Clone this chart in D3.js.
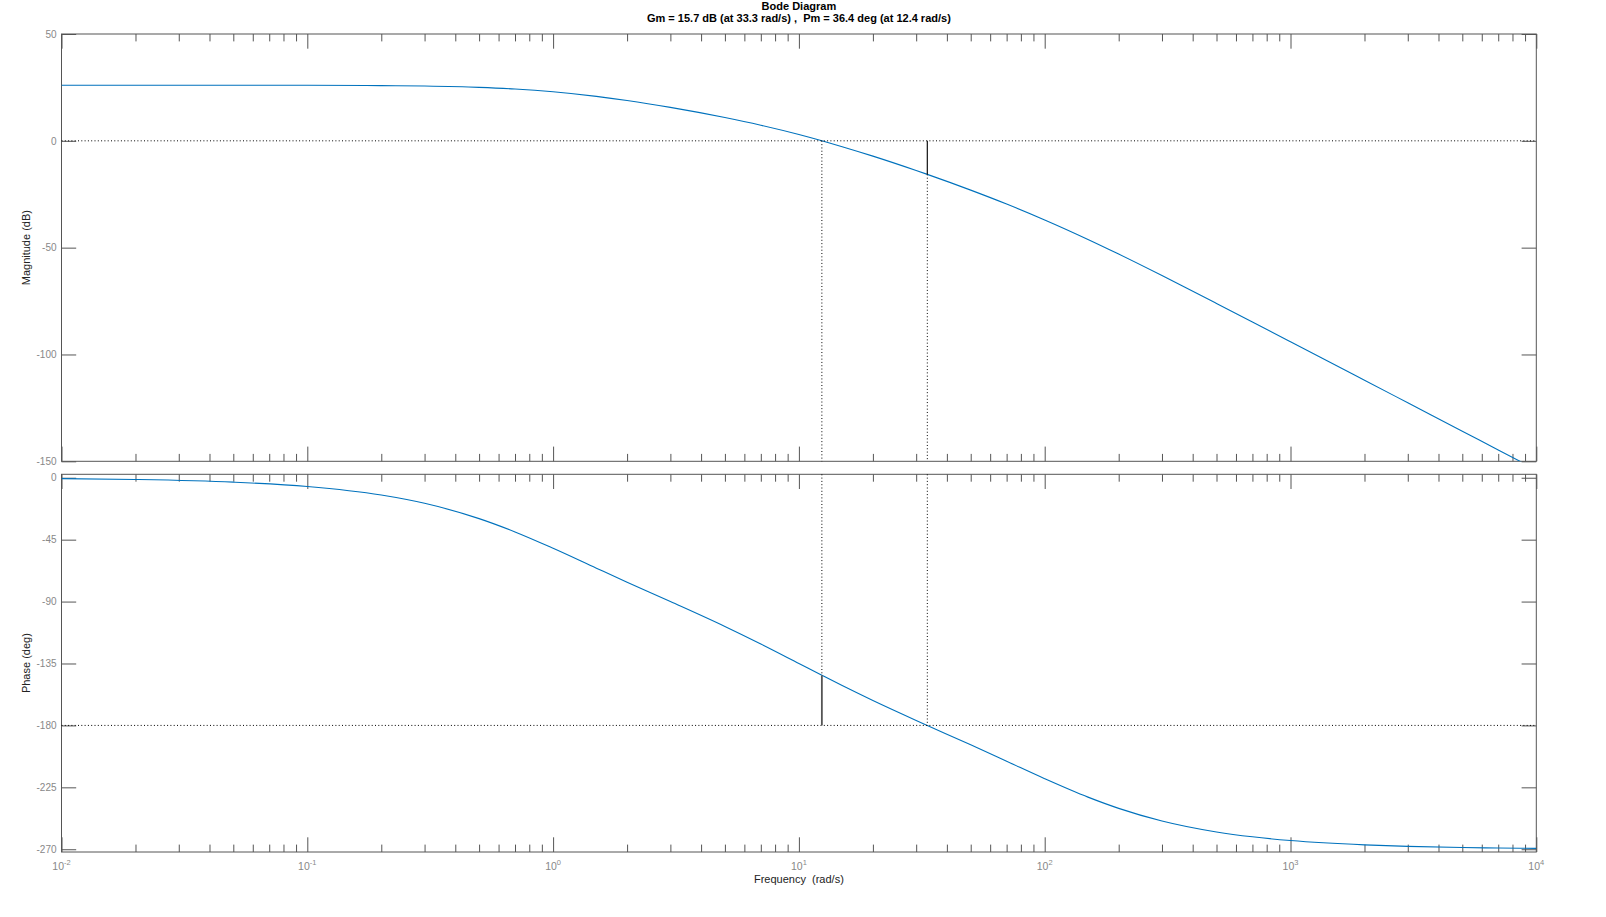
<!DOCTYPE html>
<html>
<head>
<meta charset="utf-8">
<script src="https://cdn.jsdelivr.net/npm/d3@7"></script>
<style>
body{margin:0;background:#fff;}
svg{font-family:"Liberation Sans",Arial,Helvetica,sans-serif;}
</style>
</head>
<body>
<div id="bode"></div>
<script>
// frequency points (rad/s) and response
var freq  = [0.01,0.02,0.05,0.1,0.2,0.3,0.5,0.7,1,1.5,2,3,5,7,10,12.4,15,20,30,33.3,50,70,100,150,200,300,500,700,1000,2000,3000,5000,7000,10000];
var magDb = [26.02,26.02,26.01,25.98,25.85,25.64,25.04,24.27,22.97,20.80,18.86,15.64,10.89,7.28,2.93,0.0,-2.74,-7.17,-13.90,-15.71,-23.08,-29.60,-37.03,-46.16,-53.02,-63.07,-76.09,-84.77,-94.02,-112.05,-122.61,-135.92,-144.68,-153.98];
var phaseDeg = [-0.64,-1.27,-3.18,-6.34,-12.57,-18.59,-29.72,-39.39,-51.28,-65.70,-75.89,-89.99,-108.12,-120.86,-135.0,-143.56,-151.03,-161.88,-176.36,-180.0,-194.11,-206.04,-218.72,-232.12,-240.28,-249.47,-257.43,-260.97,-263.66,-266.82,-267.88,-268.73,-269.09,-269.36];

var magTicks   = [50,0,-50,-100,-150];
var phaseTicks = [0,-45,-90,-135,-180,-225,-270];
var decades    = [-2,-1,0,1,2,3,4];

// stability margins: [frequency, value]
var gainMargin  = [33.3, 15.7];   // dB
var phaseMargin = [12.4, 36.4];   // deg

var W = 1606, H = 917;
var left = 61.5, right = 1536.3;
var magBox = {top:34, bottom:461.3};
var phBox  = {top:474.3, bottom:852};
var tickLen = 14.7, minorLen = 7.4;

var svg = d3.select("#bode").append("svg")
	.attr("width",W).attr("height",H);

var x = d3.scaleLog().domain([1e-2,1e4]).range([left,right]);
var yMag = d3.scaleLinear().domain([-150,50]).range([magBox.bottom,magBox.top]);
var yPh  = d3.scaleLinear().domain([-272,2.5]).range([phBox.bottom,phBox.top]);

var majorX = decades.map(function(d){return Math.pow(10,d);});
var minorX = [];
decades.slice(0,-1).forEach(function(d){
	for(var k=2;k<10;k++) minorX.push(k*Math.pow(10,d));
});

var defs = svg.append("defs");
[["clipMag",magBox],["clipPh",phBox]].forEach(function(c){
	defs.append("clipPath").attr("id",c[0]).append("rect")
		.attr("x",left).attr("y",c[1].top)
		.attr("width",right-left).attr("height",c[1].bottom-c[1].top);
});

function panel(box,y,ticks,data,clip){
	var g = svg.append("g");
	var h = box.bottom-box.top;

	// x ticks top and bottom, pointing inward
	g.append("g").attr("transform","translate(0,"+box.bottom+")")
		.call(d3.axisBottom(x).tickValues(majorX).tickSize(-tickLen).tickFormat(""));
	g.append("g").attr("transform","translate(0,"+box.bottom+")")
		.call(d3.axisBottom(x).tickValues(minorX).tickSize(-minorLen).tickFormat(""));
	g.append("g").attr("transform","translate(0,"+box.top+")")
		.call(d3.axisTop(x).tickValues(majorX).tickSize(-tickLen).tickFormat(""));
	g.append("g").attr("transform","translate(0,"+box.top+")")
		.call(d3.axisTop(x).tickValues(minorX).tickSize(-minorLen).tickFormat(""));

	// y ticks left (labelled) and right
	var ya = g.append("g").attr("transform","translate("+left+",0)")
		.call(d3.axisLeft(y).tickValues(ticks).tickSize(-tickLen).tickFormat(function(d){return String(d);}));
	ya.selectAll("text").attr("x",-5).style("font-size","10px").style("fill","#888");
	g.append("g").attr("transform","translate("+right+",0)")
		.call(d3.axisRight(y).tickValues(ticks).tickSize(-tickLen).tickFormat(""));

	g.selectAll(".domain").remove();
	g.selectAll(".tick line").attr("stroke","#555");

	g.append("rect").attr("x",left).attr("y",box.top)
		.attr("width",right-left).attr("height",h)
		.attr("fill","none").attr("stroke","#555").attr("stroke-width",1);

	var line = d3.line()
		.x(function(d,i){return x(freq[i]);})
		.y(function(d){return y(d);})
		.curve(d3.curveMonotoneX);

	g.append("path").datum(data)
		.attr("clip-path","url(#"+clip+")")
		.attr("d",line)
		.attr("fill","none").attr("stroke","#0072BD").attr("stroke-width",1.1);
	return g;
}

function seg(g,x1,y1,x2,y2,dotted,color,w){
	g.append("line").attr("x1",x1).attr("y1",y1).attr("x2",x2).attr("y2",y2)
		.attr("stroke",color||"#000").attr("stroke-width",w||1)
		.attr("stroke-dasharray",dotted?"1,2.3":null);
}

var gm = panel(magBox,yMag,magTicks,magDb,"clipMag");
var gp = panel(phBox,yPh,phaseTicks,phaseDeg,"clipPh");

// magnitude margin markers
seg(gm,left,yMag(0),right,yMag(0),true);
seg(gm,x(phaseMargin[0]),yMag(0),x(phaseMargin[0]),magBox.bottom,true);
seg(gm,x(gainMargin[0]),yMag(-gainMargin[1]),x(gainMargin[0]),magBox.bottom,true);
seg(gm,x(gainMargin[0]),yMag(0),x(gainMargin[0]),yMag(-gainMargin[1]),false,"#111",1.2);

// phase margin markers
seg(gp,left,yPh(-180),right,yPh(-180),true);
seg(gp,x(phaseMargin[0]),phBox.top,x(phaseMargin[0]),yPh(-180+phaseMargin[1]),true);
seg(gp,x(gainMargin[0]),phBox.top,x(gainMargin[0]),yPh(-180),true);
seg(gp,x(phaseMargin[0]),yPh(-180+phaseMargin[1]),x(phaseMargin[0]),yPh(-180),false,"#555",1.8);

// x tick labels 10^n under the phase plot
var xl = svg.append("g").selectAll("text").data(decades).enter().append("text")
	.attr("x",function(d){return x(Math.pow(10,d));})
	.attr("y",870)
	.attr("text-anchor","middle")
	.style("font-size","10.5px").style("fill","#888");
xl.append("tspan").text("10");
xl.append("tspan").attr("dy",-5).style("font-size","7.5px").text(function(d){return d;});

// titles and labels
var cx = (left+right)/2;
svg.append("text").attr("x",cx).attr("y",10).attr("text-anchor","middle")
	.style("font-size","11px").style("font-weight","bold").text("Bode Diagram");
svg.append("text").attr("x",cx).attr("y",22).attr("text-anchor","middle")
	.style("font-size","11px").style("font-weight","bold")
	.attr("xml:space","preserve")
	.text("Gm = "+gainMargin[1]+" dB (at "+gainMargin[0]+" rad/s) ,  Pm = "+phaseMargin[1]+" deg (at "+phaseMargin[0]+" rad/s)");

svg.append("text").attr("text-anchor","middle")
	.attr("transform","translate(30,"+((magBox.top+magBox.bottom)/2)+")rotate(-90)")
	.style("font-size","11px").style("fill","#222").text("Magnitude (dB)");
svg.append("text").attr("text-anchor","middle")
	.attr("transform","translate(30,"+((phBox.top+phBox.bottom)/2)+")rotate(-90)")
	.style("font-size","11px").style("fill","#222").text("Phase (deg)");
svg.append("text").attr("x",cx).attr("y",883).attr("text-anchor","middle")
	.attr("xml:space","preserve")
	.style("font-size","11px").style("fill","#222").text("Frequency  (rad/s)");
</script>
</body>
</html>
